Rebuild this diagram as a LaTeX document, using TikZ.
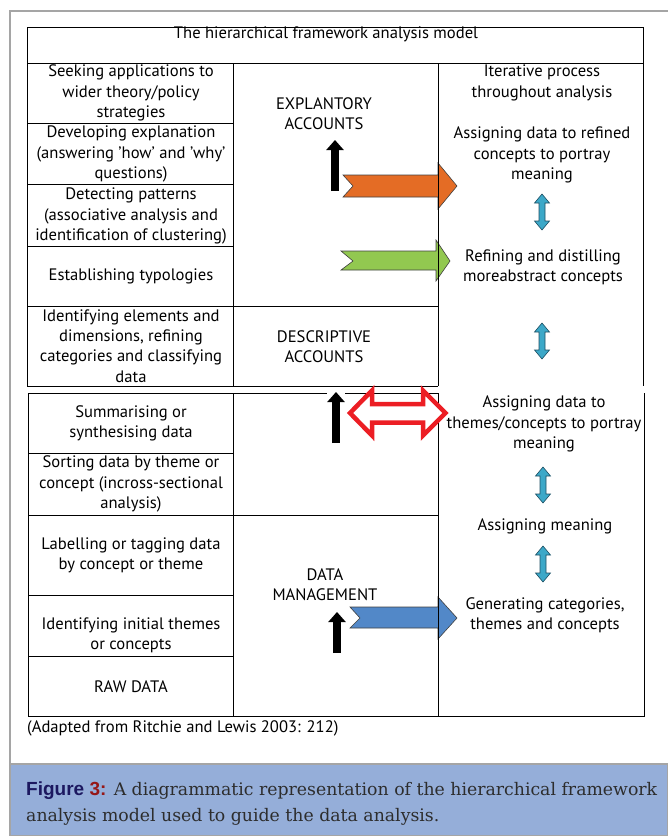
\documentclass[tikz,border=0pt]{standalone}
\usepackage{fontspec}
\setmainfont{DejaVu Serif}
\setsansfont{PT Sans}
\newfontfamily\figlabelfont{Liberation Sans}
\usetikzlibrary{arrows.meta,calc,positioning}

\definecolor{framegray}{RGB}{165,165,165}
\definecolor{capblue}{RGB}{149,174,217}
\definecolor{capnavy}{RGB}{28,24,96}
\definecolor{capred}{RGB}{150,22,22}
\definecolor{captext}{RGB}{45,45,45}
\definecolor{arroworange}{RGB}{228,108,37}
\definecolor{arrowgreen}{RGB}{146,200,80}
\definecolor{arrowblue}{RGB}{82,136,200}
\definecolor{arrowteal}{RGB}{60,168,200}
\definecolor{tealdark}{RGB}{30,80,100}
\definecolor{arrowred}{RGB}{236,30,36}

\newcommand{\cellfont}{\sffamily\fontsize{16.6}{20.3}\selectfont}
\newcommand{\capfont}{\rmfamily\fontsize{17.3}{26}\selectfont}

\tikzset{
    % text in the table
    cell/.style={font=\cellfont, align=center, inner sep=0pt},
    level/.style={cell},
    stage/.style={cell},
    % table rules
    rule/.style={line width=0.9pt, black},
    % arrows
    upshaft/.style={line width=8.5pt, -{Triangle[length=10pt,width=17pt]}},
    chevron/.style={draw=black!75, line width=0.6pt},
    twoway/.style={draw=arrowred, line width=4.5pt, fill=white, line join=miter},
    tealshape/.style={draw=tealdark, fill=arrowteal, line width=0.6pt},
    updown/.pic={
        \path[tealshape] (0,-18) -- (7.5,-9) -- (3,-9) -- (3,9) -- (7.5,9)
            -- (0,18) -- (-7.5,9) -- (-3,9) -- (-3,-9) -- (-7.5,-9) -- cycle;
    },
}

\begin{document}
\begin{tikzpicture}[x=1pt,y=-1pt]
  \useasboundingbox (0,0) rectangle (668,836);

  % page frame and caption band
  \draw[framegray, line width=1.3pt] (10,836) -- (10,11) -- (668,11);
  \filldraw[fill=capblue, draw=framegray, line width=1.3pt] (10,764) -- (668,764) -- (668,836) -- (10,836) -- cycle;

  % the coloured arrows (under the rules)
  \draw[chevron, fill=arroworange] (343,175) -- (438,175) -- (438,163) -- (457,186)
      -- (438,209) -- (438,197) -- (343,197) -- (353,186) -- cycle;
  \draw[chevron, fill=arrowgreen] (341,251) -- (436,251) -- (436,240) -- (450,261)
      -- (436,281) -- (436,270) -- (341,270) -- (353,261) -- cycle;
  \draw[chevron, fill=arrowblue] (350,607) -- (438,607) -- (438,597) -- (457,618)
      -- (438,639) -- (438,628) -- (350,628) -- (360,618) -- cycle;

  % upper table
  \draw[rule] (27,27) rectangle (643,63);
  \draw[rule] (27,63) -- (27,386) -- (438,386);
  \draw[rule] (233,63) -- (233,386);
  \draw[rule] (438,63) -- (438,386);
  \draw[rule] (643,63) -- (643,386);
  \foreach \y in {123,184,246,306}
    \draw[rule] (27,\y) -- (233,\y);
  \draw[rule] (233,306) -- (438,306);

  % lower table
  \draw[rule] (28,393) -- (327,393);
  \draw[rule] (345,393) -- (438,393);
  \draw[rule] (28,393) -- (28,716) -- (644,716) -- (644,393);
  \draw[rule] (233,393) -- (233,716);
  \draw[rule] (438,393) -- (438,716);
  \foreach \y in {453,515,595,656}
    \draw[rule] (28,\y) -- (233,\y);
  \draw[rule] (233,515) -- (438,515);

  % title
  \node[cell] (title) at (326,34) {The hierarchical framework analysis model};

  % left column
  \node[cell] (seek)   at (131,93)  {Seeking applications to\\wider theory/policy\\strategies};
  \node[cell] (devel)  at (131,154) {Developing explanation\\(answering 'how' and 'why'\\questions)};
  \node[cell] (detect) at (131,216) {Detecting patterns\\(associative analysis and\\identification of clustering)};
  \node[cell] (typol)  at (131,276) {Establishing typologies};
  \node[cell] (ident)  at (131,346) {Identifying elements and\\dimensions, refining\\categories and classifying\\data};
  \node[cell] (summ)   at (131,423) {Summarising or\\synthesising data};
  \node[cell] (sort)   at (131,484) {Sorting data by theme or\\concept (incross-sectional\\analysis)};
  \node[cell] (label)  at (131,555) {Labelling or tagging data\\by concept or theme};
  \node[cell] (initial) at (131,635) {Identifying initial themes\\or concepts};
  \node[cell] (raw)    at (131,687) {RAW DATA};

  % middle column
  \node[level] (explan) at (324,114) {EXPLANTORY\\ACCOUNTS};
  \node[level] (descr)  at (324,347) {DESCRIPTIVE\\ACCOUNTS};
  \node[level] (manage) at (325,585) {DATA\\MANAGEMENT};

  % right column
  \node[stage] (iter)    at (542,83)  {Iterative process\\throughout analysis};
  \node[stage] (refined) at (542,155) {Assigning data to refined\\concepts to portray\\meaning};
  \node[stage] (distil)  at (543,267) {Refining and distilling\\moreabstract concepts};
  \node[stage] (themes)  at (544,424) {Assigning data to\\themes/concepts to portray\\meaning};
  \node[stage] (meaning) at (545,526) {Assigning meaning};
  \node[stage] (generate) at (545,615) {Generating categories,\\themes and concepts};

  \pic at (542,212) {updown};
  \pic at (542,341) {updown};
  \pic at (543,485) {updown};
  \pic at (543,564) {updown};

  % black upward arrows
  \coordinate (up1a) at (335,191); \coordinate (up1b) at (335,140);
  \coordinate (up2a) at (336,443); \coordinate (up2b) at (336,392);
  \coordinate (up3a) at (337,653); \coordinate (up3b) at (337,612);
  \draw[upshaft] (up1a) -- (up1b);
  \draw[upshaft] (up2a) -- (up2b);
  \draw[upshaft] (up3a) -- (up3b);

  % two-way red arrow
  \draw[twoway] (350,413) -- (372,390.5) -- (372,404) -- (423,404) -- (423,390.5)
      -- (445.5,413) -- (423,435.5) -- (423,422.5) -- (372,422.5) -- (372,435.5) -- cycle;

  % source and caption
  \node[cell, anchor=west] (source) at (27,728) {(Adapted from Ritchie and Lewis 2003: 212)};
  \node[font=\capfont, text=captext, align=left, inner sep=0pt, anchor=west] (caption) at (26,804)
    {{\figlabelfont\bfseries\fontsize{19}{26}\selectfont\color{capnavy}Figure \color{capred}3:} A diagrammatic representation of the hierarchical framework\\analysis model used to guide the data analysis.};
\end{tikzpicture}
\end{document}
